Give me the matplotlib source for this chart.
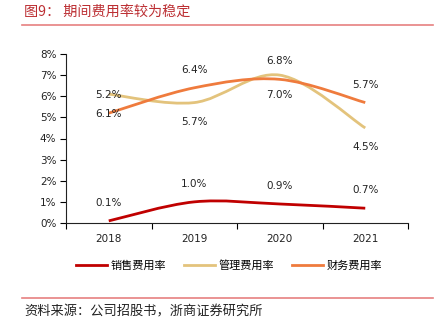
import matplotlib.pyplot as plt
from matplotlib.path import Path
from matplotlib.patches import PathPatch
from matplotlib.lines import Line2D
import numpy as np

plt.rcParams['font.family'] = ['Noto Sans CJK SC', 'DejaVu Sans']

years = ['2018', '2019', '2020', '2021']
sales_rate = [0.1, 1.0, 0.9, 0.7]
admin_rate = [6.1, 5.7, 7.0, 4.5]
finance_rate = [5.2, 6.4, 6.8, 5.7]

series = [
    ('销售费用率', sales_rate, '#C00000', 'above'),
    ('管理费用率', admin_rate, '#E3C37C', 'below'),
    ('财务费用率', finance_rate, '#EF7B3D', 'above'),
]


def smooth_path(xs, ys):
    # cubic bezier through every point, catmull-rom style tangents
    pts = np.column_stack([xs, ys]).astype(float)
    n = len(pts)
    verts = [pts[0]]
    codes = [Path.MOVETO]
    for i in range(n - 1):
        p0 = pts[max(i - 1, 0)]
        p1 = pts[i]
        p2 = pts[i + 1]
        p3 = pts[min(i + 2, n - 1)]
        c1 = p1 + (p2 - p0) / 6
        c2 = p2 - (p3 - p1) / 6
        verts += [c1, c2, p2]
        codes += [Path.CURVE4] * 3
    return Path(verts, codes)


fig = plt.figure(figsize=(4.45, 3.23), dpi=100)
ax = fig.add_axes([66 / 445, 1 - 223 / 323, 342 / 445, 169 / 323])

x = np.arange(len(years))
for name, vals, color, pos in series:
    ax.add_patch(PathPatch(smooth_path(x, vals), facecolor='none',
                           edgecolor=color, lw=2.0, capstyle='butt'))
    dy = 13 if pos == 'above' else -14
    for xi, v in zip(x, vals):
        ax.annotate(f'{v:.1f}%', (xi, v), xytext=(0, dy), textcoords='offset points',
                    ha='center', va='center', fontsize=7.5, color='#222222',
                    family=['DejaVu Sans'])

ax.set_xlim(-0.5, 3.5)
ax.set_ylim(0, 8)
ax.set_yticks(range(0, 9))
ax.set_yticklabels([f'{i}%' for i in range(0, 9)])
ax.set_xticks(x)
ax.set_xticklabels(years)
ax.set_xticks(np.arange(-0.5, 4, 1), minor=True)
ax.tick_params(axis='x', which='major', length=0, pad=8, labelsize=7.5)
ax.tick_params(axis='x', which='minor', length=4, direction='out', width=0.8)
ax.tick_params(axis='y', length=4, direction='out', width=0.8, labelsize=7.5, pad=3)
for lab in ax.get_xticklabels() + ax.get_yticklabels():
    lab.set_family(['DejaVu Sans'])
    lab.set_color('#222222')
ax.spines['top'].set_visible(False)
ax.spines['right'].set_visible(False)
ax.spines['left'].set_color('#222222')
ax.spines['bottom'].set_color('#222222')
ax.spines['left'].set_linewidth(0.8)
ax.spines['bottom'].set_linewidth(0.8)

handles = [Line2D([], [], color=c, lw=2.0) for _, _, c, _ in series]
fig.legend(handles, [s[0] for s in series], loc='center', ncol=3,
           bbox_to_anchor=(0.515, 1 - 265 / 323),
           frameon=False, fontsize=8, handlelength=2.8, handletextpad=0.3,
           columnspacing=1.6)

fig.text(24 / 445, 1 - 12 / 323, '图9： 期间费用率较为稳定', fontsize=10.2,
         color='#BC2F33', ha='left', va='center')
fig.add_artist(Line2D([22 / 445, 433 / 445], [1 - 25 / 323] * 2, color='#E68080', lw=1.2))
fig.add_artist(Line2D([22 / 445, 433 / 445], [1 - 298 / 323] * 2, color='#E68080', lw=1.2))
fig.text(24 / 445, 1 - 312 / 323, '资料来源：公司招股书，浙商证券研究所', fontsize=9.5,
         color='#222222', ha='left', va='center')

fig.savefig('out.png', dpi=100)
